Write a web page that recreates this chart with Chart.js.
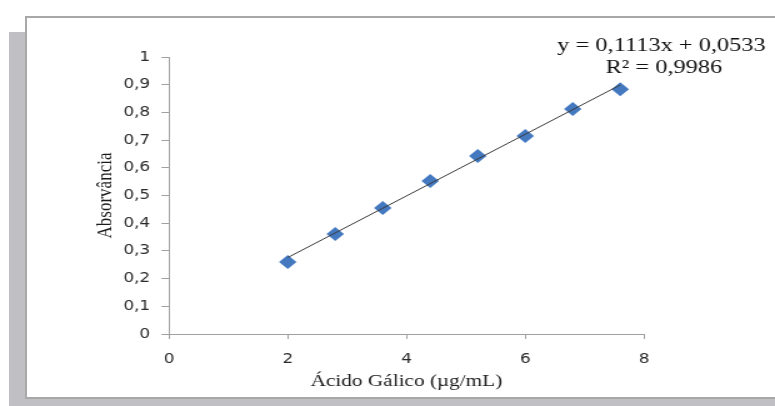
<!DOCTYPE html>
<html>
<head>
<meta charset="utf-8">
<script src="https://cdn.jsdelivr.net/npm/chart.js@4/dist/chart.umd.min.js"></script>
<style>
  html, body { margin: 0; padding: 0; background: #fff; overflow: hidden; }
  #shadow { position: absolute; left: 9px; top: 32px; width: 800px; height: 400px; background: #c0c0c4; }
  #box { position: absolute; left: 25px; top: 16px; width: 800px; height: 383px; box-sizing: border-box;
         border: 2px solid #a8a8a8; background: #fff; }
  #wrap { position: absolute; left: 0; top: 0; width: 620px; height: 406px; transform: scaleX(1.25); transform-origin: 0 0; }
</style>
</head>
<body>
<div id="shadow"></div>
<div id="box"></div>
<div id="wrap"><canvas id="c" width="620" height="406"></canvas></div>
<script>
// Data
const concentrations = [2, 2.8, 3.6, 4.4, 5.2, 6, 6.8, 7.6];
const absorbances = [0.26, 0.361, 0.455, 0.552, 0.643, 0.715, 0.812, 0.884];
const trendX = [2, 7.6];
const trendY = [0.276, 0.899];
const yTickLabels = ['0', '0,1', '0,2', '0,3', '0,4', '0,5', '0,6', '0,7', '0,8', '0,9', '1'];
const xTickLabels = ['0', '2', '4', '6', '8'];
const equationLines = ['y = 0,1113x + 0,0533', 'R\u00B2 = 0,9986'];
const xTitle = 'Ácido Gálico (µg/mL)';
const yTitle = 'Absorvância';

const equationPlugin = {
  id: 'equation',
  afterDraw(chart) {
    const { ctx, chartArea } = chart;
    ctx.save();
    ctx.font = '19.5px "Liberation Serif", "Times New Roman", serif';
    ctx.fillStyle = '#111';
    ctx.textAlign = 'center';
    ctx.textBaseline = 'middle';
    ctx.fillText(equationLines[0], chartArea.right + 14, chartArea.top - 11);
    ctx.fillText(equationLines[1], chartArea.right + 16, chartArea.top + 11);
    ctx.restore();
  }
};

const axisColor = '#a0a0a0';
const tickFont = { family: '"DejaVu Sans", Verdana, sans-serif', size: 13.5 };
const titleFont = { family: '"Liberation Serif", "Times New Roman", serif', size: 17 };

new Chart(document.getElementById('c'), {
  type: 'scatter',
  data: {
    datasets: [
      {
        type: 'line',
        label: 'Linear',
        data: trendX.map((x, i) => ({ x, y: trendY[i] })),
        borderColor: '#3a3a3a',
        borderWidth: 1,
        pointRadius: 0,
        fill: false
      },
      {
        label: 'Absorvância',
        data: concentrations.map((x, i) => ({ x, y: absorbances[i] })),
        pointStyle: 'rectRot',
        pointRadius: 7,
        pointBackgroundColor: '#4479c0',
        pointBorderColor: '#4479c0',
        pointBorderWidth: 0
      }
    ]
  },
  options: {
    responsive: false,
    animation: false,
    layout: { padding: { left: 0, top: 57, right: 104.8, bottom: 0 } },
    plugins: { legend: { display: false }, tooltip: { enabled: false } },
    scales: {
      x: {
        type: 'linear',
        min: 0, max: 8,
        afterFit(scale) { scale.height = 72; },
        border: { display: true, color: axisColor, width: 1 },
        grid: { display: true, drawOnChartArea: false, drawTicks: true, tickLength: 5, color: axisColor },
        ticks: {
          stepSize: 2, padding: 12, color: '#2a2a2a', font: tickFont,
          callback: (v, i) => xTickLabels[i]
        },
        title: { display: true, text: xTitle, color: '#1a1a1a', font: titleFont, padding: { top: 0, bottom: 13.8 } }
      },
      y: {
        min: 0, max: 1,
        afterFit(scale) { scale.width = 135.2; },
        border: { display: true, color: axisColor, width: 1 },
        grid: { display: true, drawOnChartArea: false, drawTicks: true, tickLength: 6, color: axisColor },
        ticks: {
          stepSize: 0.1, padding: 9, color: '#2a2a2a', font: tickFont,
          callback: (v, i) => yTickLabels[i]
        },
        title: { display: true, text: yTitle, color: '#1a1a1a', font: titleFont, padding: { top: 74, bottom: 0 } }
      }
    }
  },
  plugins: [equationPlugin]
});
</script>
</body>
</html>
